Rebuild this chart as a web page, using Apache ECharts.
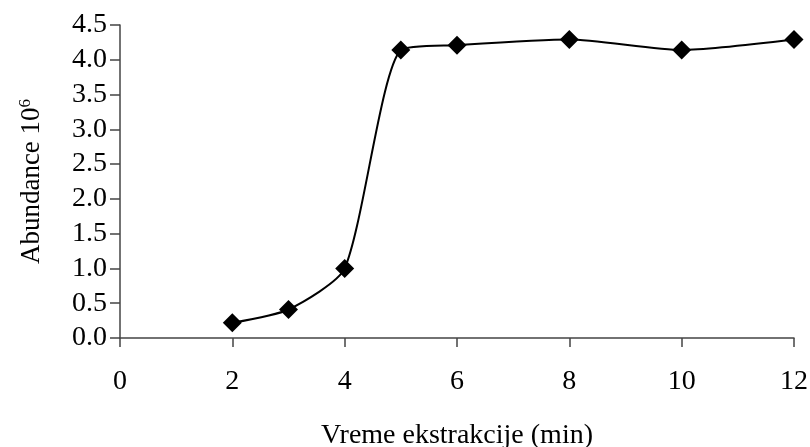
<!DOCTYPE html>
<html><head><meta charset="utf-8">
<script src="https://cdn.jsdelivr.net/npm/echarts@6/dist/echarts.min.js"></script>
<style>html,body{margin:0;padding:0;background:#fff}#c{width:810px;height:447px}</style>
</head><body><div id="c"></div>
<script>
const xValues = [2, 3, 4, 5, 6, 8, 10, 12];
const yValues = [0.22, 0.41, 1.0, 4.14, 4.21, 4.29, 4.14, 4.29];
const xTitle = 'Vreme ekstrakcije (min)';
const yTitle = 'Abundance 10';
const yTitleSup = '6';

const font = 'Liberation Serif';
const chart = echarts.init(document.getElementById('c'), null, {renderer: 'canvas'});
chart.setOption({
  animation: false,
  backgroundColor: '#fff',
  grid: {left: 120, right: 16, top: 25, bottom: 109, containLabel: false, outerBoundsMode: 'none'},
  xAxis: {
    type: 'value', min: 0, max: 12, interval: 2,
    name: xTitle, nameLocation: 'middle', nameGap: 84,
    nameTextStyle: {fontFamily: font, fontSize: 28, color: '#000'},
    axisLine: {show: true, lineStyle: {color: '#444', width: 1.5}},
    axisTick: {show: true, length: 9, lineStyle: {color: '#444', width: 1.5}},
    axisLabel: {fontFamily: font, fontSize: 28, color: '#000', margin: 30},
    splitLine: {show: false}
  },
  yAxis: {
    type: 'value', min: 0, max: 4.5, interval: 0.5,
    name: '{a|' + yTitle + '}{s|' + yTitleSup + '}', nameLocation: 'middle', nameGap: 74, nameRotate: 90,
    nameTextStyle: {
      fontFamily: font, fontSize: 27, color: '#000',
      rich: {
        a: {fontFamily: font, fontSize: 27, color: '#000'},
        s: {fontFamily: font, fontSize: 17, color: '#000', verticalAlign: 'top', padding: [0, 0, 12, 0]}
      }
    },
    axisLine: {show: true, lineStyle: {color: '#444', width: 1.5}},
    axisTick: {show: true, length: 10, lineStyle: {color: '#444', width: 1.5}},
    axisLabel: {fontFamily: font, fontSize: 28, color: '#000', margin: 13,
      formatter: v => v.toFixed(1)},
    splitLine: {show: false}
  },
  series: [{
    type: 'line',
    data: xValues.map((x, i) => [x, yValues[i]]),
    smooth: 0.22,
    symbol: 'diamond', symbolSize: 19,
    itemStyle: {color: '#000'},
    lineStyle: {color: '#000', width: 2}
  }]
});
</script></body></html>
